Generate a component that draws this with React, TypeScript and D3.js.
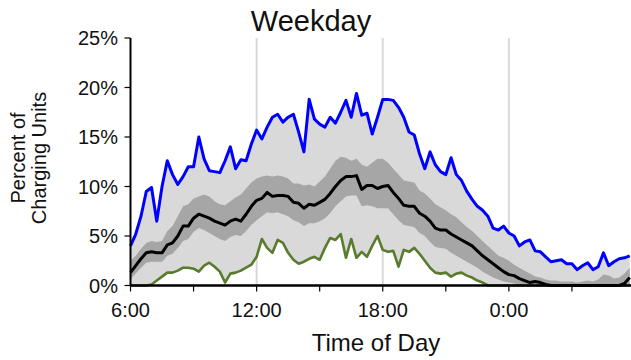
import React from 'react';
import * as d3 from 'd3';

// 15-minute slots from 6:00 to 5:45 the next morning (hours past midnight, 24+ = next day)
const slots = d3.range(96).map((i) => 6 + i * 0.25);

// percent of charging units
const maxPct = [
  4.0, 5.2, 7.0, 9.5, 9.9, 6.5, 10.0, 12.6, 11.2, 10.2, 11.0, 12.0, 12.0, 15.0, 12.8, 11.6,
  11.5, 11.4, 12.6, 14.0, 11.8, 12.7, 12.6, 14.3, 15.7, 14.8, 16.0, 17.0, 17.3, 16.5, 17.0, 17.3,
  15.5, 13.5, 18.8, 16.8, 16.3, 16.0, 17.0, 16.4, 17.5, 18.7, 17.0, 19.4, 17.2, 17.4, 15.3, 17.0,
  18.8, 18.8, 18.7, 18.0, 17.0, 15.5, 15.2, 13.3, 11.8, 13.5, 12.2, 11.5, 11.2, 12.9, 11.2, 10.6,
  9.5, 8.7, 8.0, 7.6, 7.0, 5.8, 5.6, 6.0, 5.3, 5.0, 4.0, 4.4, 4.6, 3.5, 3.4, 2.9,
  2.4, 2.5, 2.6, 2.2, 2.2, 1.6, 2.0, 2.3, 1.6, 1.9, 3.3, 2.0, 2.4, 2.7, 2.8, 3.0,
];

const upperPct = [
  2.5, 3.0, 3.7, 4.3, 4.5, 4.4, 4.5, 5.5, 6.0, 7.0, 8.0, 8.2, 8.8, 9.0, 9.2, 9.0,
  8.5, 8.2, 8.1, 8.5, 8.9, 9.2, 9.8, 10.4, 10.8, 11.0, 11.1, 11.0, 11.1, 11.0, 10.8, 10.3,
  10.3, 10.1, 10.2, 10.0, 10.5, 11.0, 11.8, 12.6, 13.0, 12.9, 12.6, 12.8, 12.2, 12.0, 12.4, 12.8,
  12.8, 12.4, 11.8, 11.2, 10.6, 10.5, 10.4, 9.6, 9.3, 8.8, 8.2, 7.9, 7.6, 7.2, 6.9, 6.4,
  5.9, 5.5, 5.0, 4.5, 4.0, 3.5, 3.0, 2.8, 2.5, 2.1, 1.8, 1.5, 1.2, 0.9, 0.8, 0.6,
  0.5, 0.5, 0.4, 0.4, 0.4, 0.3, 0.4, 0.5, 0.4, 0.6, 1.1, 1.0, 0.7, 0.8, 1.2, 1.8,
];

const centralPct = [
  1.3, 2.0, 2.7, 3.3, 3.4, 3.3, 3.3, 4.1, 4.3, 5.0, 6.0, 6.0, 6.8, 7.2, 7.0, 6.8,
  6.5, 6.3, 6.1, 6.5, 6.7, 6.5, 7.2, 8.0, 8.6, 8.8, 9.4, 9.0, 9.1, 9.1, 9.0, 8.4,
  8.3, 7.8, 8.2, 8.1, 8.4, 8.7, 9.3, 10.0, 10.6, 11.0, 11.0, 11.1, 9.7, 10.1, 10.1, 9.8,
  10.0, 10.1, 9.4, 8.8, 8.1, 8.0, 8.0, 7.3, 7.0, 6.5, 5.8, 5.6, 5.6, 5.2, 4.9, 4.6,
  4.3, 4.0, 3.5, 3.0, 2.6, 2.2, 1.8, 1.4, 1.1, 1.0, 0.7, 0.5, 0.3, 0.4, 0.3, 0.1,
  0, 0, 0, 0, 0, 0, 0, 0, 0, 0, 0, 0, 0, 0, 0.2, 0.8,
];

const lowerPct = [
  0.6, 1.2, 1.8, 2.3, 2.4, 2.4, 2.4, 3.0, 3.2, 3.8, 4.5, 4.7, 5.4, 5.8, 5.6, 5.3,
  5.0, 4.7, 4.5, 4.9, 5.1, 5.0, 5.5, 6.1, 6.6, 7.0, 7.4, 7.3, 7.4, 7.2, 7.0, 6.6,
  6.4, 6.0, 6.3, 6.3, 6.5, 6.8, 7.3, 8.0, 8.5, 9.0, 9.1, 9.1, 8.0, 8.1, 8.0, 7.8,
  7.8, 7.8, 7.2, 6.6, 6.1, 6.0, 5.9, 5.3, 5.0, 4.4, 3.9, 3.8, 3.7, 3.3, 3.0, 2.7,
  2.4, 2.1, 1.8, 1.4, 1.1, 0.8, 0.6, 0.4, 0.3, 0.2, 0.1, 0, 0, 0, 0, 0,
  0, 0, 0, 0, 0, 0, 0, 0, 0, 0, 0, 0, 0, 0, 0, 0,
];

const minPct = [
  0, 0, 0, 0, 0.1, 0.5, 0.9, 1.3, 1.3, 1.5, 1.8, 1.8, 1.7, 1.4, 2.0, 2.3,
  1.9, 1.4, 0.3, 1.2, 1.3, 1.5, 1.8, 2.1, 2.9, 4.7, 3.8, 3.3, 4.6, 4.3, 3.3, 2.6,
  2.2, 2.4, 2.7, 2.9, 2.6, 3.8, 4.8, 4.6, 5.2, 2.8, 4.7, 2.8, 3.4, 2.9, 4.0, 5.0,
  3.6, 3.4, 3.5, 1.9, 3.6, 3.4, 3.8, 3.2, 2.5, 1.8, 1.3, 1.2, 1.3, 0.9, 1.2, 1.3,
  1.0, 0.8, 0.5, 0.3, 0, 0, 0, 0, 0, 0, 0, 0, 0, 0, 0, 0,
  0, 0, 0, 0, 0, 0, 0, 0, 0, 0, 0, 0, 0, 0, 0, 0,
];

const xTicks = [6, 9, 12, 15, 18, 21, 24, 27];
const xLabels = [
  { h: 6, label: '6:00' },
  { h: 12, label: '12:00' },
  { h: 18, label: '18:00' },
  { h: 24, label: '0:00' },
];
const gridHours = [12, 18, 24];
const yTicks = [0, 5, 10, 15, 20, 25];

const W = 631;
const H = 360;
const FONT = '"Liberation Sans", Arial, sans-serif';

export default function App() {
  const x = d3.scaleLinear().domain([6, 30]).range([130.5, 635]);
  const y = d3.scaleLinear().domain([0, 25]).range([285.5, 38]);

  const idx = d3.range(slots.length);

  const outerBand = d3
    .area<number>()
    .x((i) => x(slots[i]))
    .y0((i) => y(minPct[i]))
    .y1((i) => y(maxPct[i]));

  const innerBand = d3
    .area<number>()
    .x((i) => x(slots[i]))
    .y0((i) => y(lowerPct[i]))
    .y1((i) => y(upperPct[i]));

  const lineOf = (vals: number[]) =>
    d3
      .line<number>()
      .x((i) => x(slots[i]))
      .y((i) => y(vals[i]))(idx) || '';

  return (
    <svg
      width={W}
      height={H}
      style={{ position: 'fixed', left: 0, top: 0, background: '#fff' }}
      fontFamily={FONT}
    >
      {/* vertical gridlines */}
      {gridHours.map((h) => (
        <line key={h} x1={x(h)} x2={x(h)} y1={y(25)} y2={y(0)} stroke="#d9d9d9" strokeWidth={2} />
      ))}

      <path d={outerBand(idx) || ''} fill="#d9d9d9" />
      <path d={innerBand(idx) || ''} fill="#a6a6a6" />

      <path d={lineOf(minPct)} fill="none" stroke="#5a7a2e" strokeWidth={2.6} strokeLinejoin="round" />
      <path d={lineOf(maxPct)} fill="none" stroke="#0000ff" strokeWidth={3} strokeLinejoin="round" />
      <path d={lineOf(centralPct)} fill="none" stroke="#000" strokeWidth={3} strokeLinejoin="round" />

      {/* y axis */}
      <line x1={x(6)} x2={x(6)} y1={y(25)} y2={y(0)} stroke="#000" strokeWidth={2} />
      {yTicks.map((t) => (
        <g key={t} transform={`translate(0, ${y(t)})`}>
          <line x1={x(6) - 6} x2={x(6)} stroke="#000" strokeWidth={1.2} />
          <text x={118} dy="0.35em" textAnchor="end" fontSize={20} fill="#111">
            {t}%
          </text>
        </g>
      ))}

      {/* x axis */}
      <line x1={x(6)} x2={W} y1={y(0)} y2={y(0)} stroke="#000" strokeWidth={2.5} />
      {xTicks.map((h) => (
        <line key={h} x1={x(h)} x2={x(h)} y1={y(0)} y2={y(0) + 6} stroke="#000" strokeWidth={1.2} />
      ))}
      {xLabels.map(({ h, label }) => (
        <text key={h} x={x(h)} y={317} textAnchor="middle" fontSize={20} fill="#111">
          {label}
        </text>
      ))}

      <text x={376} y={351} textAnchor="middle" fontSize={24} fill="#111">
        Time of Day
      </text>

      <g transform="translate(0, 158) rotate(-90)" fontSize={20} fill="#111">
        <text x={0} y={25} textAnchor="middle">Percent of</text>
        <text x={0} y={46} textAnchor="middle">Charging Units</text>
      </g>

      <text x={311} y={31} textAnchor="middle" fontSize={29} fill="#111">
        Weekday
      </text>
    </svg>
  );
}
